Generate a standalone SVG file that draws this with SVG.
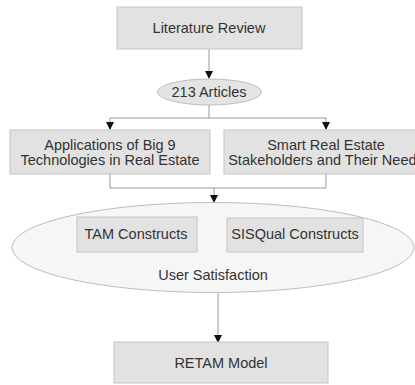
<svg xmlns="http://www.w3.org/2000/svg" width="415" height="385" viewBox="0 0 415 385">
<defs>
<style>
.box{fill:#e2e2e2;stroke:#c4c4c4;stroke-width:1}
.ell{fill:#e4e4e4;stroke:#bdbdbd;stroke-width:1}
.big{fill:#f6f6f6;stroke:#bdbdbd;stroke-width:1}
.t{font-family:"Liberation Sans",Arial,sans-serif;font-size:14.5px;fill:#333;text-anchor:middle;dominant-baseline:central}
.c{fill:none;stroke:#999;stroke-width:1}
</style>
<marker id="ah" markerWidth="8" markerHeight="10" refX="7" refY="4" orient="auto" markerUnits="userSpaceOnUse" viewBox="0 0 8 8">
<path d="M0,0 L8,4 L0,8 Z" fill="#111"/>
</marker>
</defs>
<g id="connectors">
<path class="c" d="M209,49 V78" marker-end="url(#ah)"/>
<path class="c" d="M209,105 V118 H110 V129" marker-end="url(#ah)"/>
<path class="c" d="M209,118 H326 V129" marker-end="url(#ah)"/>
<path class="c" d="M110,174 V188 H326 V174"/>
<path class="c" d="M214,188 V202" marker-end="url(#ah)"/>
<path class="c" d="M218,293 V342" marker-end="url(#ah)"/>
</g>
<g id="literature-review">
<rect class="box" x="117" y="7" width="185" height="42"/>
<text class="t" x="209" y="28">Literature Review</text>
</g>
<g id="articles">
<ellipse class="ell" cx="209.5" cy="92" rx="52" ry="13"/>
<text class="t" x="209" y="92">213 Articles</text>
</g>
<g id="applications">
<rect class="box" x="10" y="130" width="200" height="44"/>
<text class="t" x="110" y="145">Applications of Big 9</text>
<text class="t" x="110" y="160">Technologies in Real Estate</text>
</g>
<g id="stakeholders">
<rect class="box" x="224" y="130" width="204" height="44"/>
<text class="t" x="326" y="145">Smart Real Estate</text>
<text class="t" x="326" y="160">Stakeholders and Their Needs</text>
</g>
<g id="user-satisfaction">
<ellipse class="big" cx="213" cy="247.5" rx="201" ry="45"/>
<text class="t" x="213" y="275">User Satisfaction</text>
</g>
<g id="tam">
<rect class="box" x="77" y="217" width="120" height="35"/>
<text class="t" x="136" y="234">TAM Constructs</text>
</g>
<g id="sisqual">
<rect class="box" x="227" y="218" width="136" height="34"/>
<text class="t" x="295" y="234">SISQual Constructs</text>
</g>
<g id="retam">
<rect class="box" x="114" y="342" width="214" height="41"/>
<text class="t" x="221" y="363">RETAM Model</text>
</g>
</svg>
